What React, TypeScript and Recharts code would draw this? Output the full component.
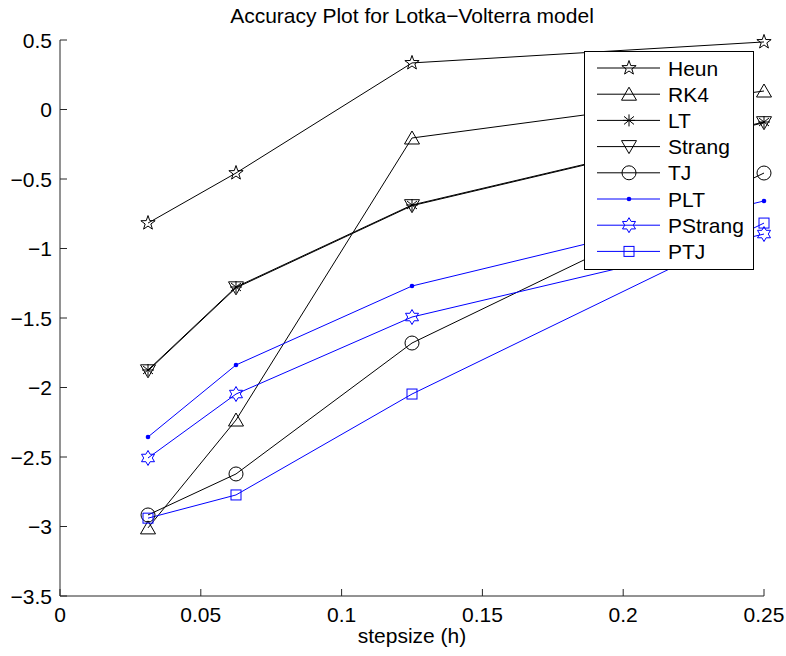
import { Legend, Line, LineChart, XAxis, YAxis } from "recharts";

const STEPS = [0.03125, 0.0625, 0.125, 0.25];

const HEUN = [-0.817, -0.457, 0.335, 0.486];
const RK4 = [-3.01, -2.234, -0.205, 0.133];
const LT = [-1.874, -1.277, -0.687, -0.09];
const STRANG = [-1.88, -1.283, -0.692, -0.095];
const TJ = [-2.917, -2.622, -1.68, -0.457];
const PLT = [-2.356, -1.838, -1.27, -0.658];
const PSTRANG = [-2.507, -2.047, -1.493, -0.896];
const PTJ = [-2.94, -2.773, -2.047, -0.817];

const X_TICKS = [0, 0.05, 0.1, 0.15, 0.2, 0.25];
const Y_TICKS = [-3.5, -3, -2.5, -2, -1.5, -1, -0.5, 0, 0.5];

const FONT = "'Liberation Sans', Arial, Helvetica, sans-serif";
const BLACK = "#000000";
const BLUE = "#0000ff";
const AXIS = "#262626";

type Shape = "pentagram" | "triUp" | "asterisk" | "triDown" | "circle" | "point" | "hexagram" | "square";

type Series = { key: string; name: string; values: number[]; color: string; shape: Shape };

const SERIES: Series[] = [
  { key: "heun", name: "Heun", values: HEUN, color: BLACK, shape: "pentagram" },
  { key: "rk4", name: "RK4", values: RK4, color: BLACK, shape: "triUp" },
  { key: "lt", name: "LT", values: LT, color: BLACK, shape: "asterisk" },
  { key: "strang", name: "Strang", values: STRANG, color: BLACK, shape: "triDown" },
  { key: "tj", name: "TJ", values: TJ, color: BLACK, shape: "circle" },
  { key: "plt", name: "PLT", values: PLT, color: BLUE, shape: "point" },
  { key: "pstrang", name: "PStrang", values: PSTRANG, color: BLUE, shape: "hexagram" },
  { key: "ptj", name: "PTJ", values: PTJ, color: BLUE, shape: "square" },
];

const data = STEPS.map((h, i) => {
  const row: Record<string, number> = { h };
  SERIES.forEach((s) => {
    row[s.key] = s.values[i];
  });
  return row;
});

function starPoints(cx: number, cy: number, n: number, outer: number, inner: number) {
  const pts: string[] = [];
  for (let i = 0; i < n * 2; i++) {
    const r = i % 2 === 0 ? outer : inner;
    const a = -Math.PI / 2 + (i * Math.PI) / n;
    pts.push(`${(cx + r * Math.cos(a)).toFixed(2)},${(cy + r * Math.sin(a)).toFixed(2)}`);
  }
  return pts.join(" ");
}

function Marker({ shape, color, cx, cy }: { shape: Shape; color: string; cx: number; cy: number }) {
  const common = { fill: "none", stroke: color, strokeWidth: 1 };
  switch (shape) {
    case "pentagram":
      return <polygon points={starPoints(cx, cy, 5, 7.5, 3)} {...common} />;
    case "hexagram":
      return <polygon points={starPoints(cx, cy, 6, 7.5, 4.3)} {...common} />;
    case "triUp":
      return <polygon points={`${cx},${cy - 7} ${cx + 7.5},${cy + 6} ${cx - 7.5},${cy + 6}`} {...common} />;
    case "triDown":
      return <polygon points={`${cx},${cy + 7} ${cx + 7.5},${cy - 6} ${cx - 7.5},${cy - 6}`} {...common} />;
    case "circle":
      return <circle cx={cx} cy={cy} r={7} {...common} />;
    case "square":
      return <rect x={cx - 5} y={cy - 5} width={10} height={10} {...common} />;
    case "point":
      return <circle cx={cx} cy={cy} r={2.3} fill={color} stroke="none" />;
    case "asterisk":
      return (
        <g stroke={color} strokeWidth={1}>
          <line x1={cx} y1={cy - 6} x2={cx} y2={cy + 6} />
          <line x1={cx - 5} y1={cy - 4} x2={cx + 5} y2={cy + 4} />
          <line x1={cx - 5} y1={cy + 4} x2={cx + 5} y2={cy - 4} />
          <line x1={cx - 6} y1={cy} x2={cx + 6} y2={cy} />
        </g>
      );
  }
  return null;
}

function makeDot(s: Series) {
  return (props: any) => (
    <g key={`${s.key}-${props.index}`}>
      <Marker shape={s.shape} color={s.color} cx={props.cx} cy={props.cy} />
    </g>
  );
}

function fmt(v: number) {
  return String(v).replace("-", "\u2212");
}

function XTick(props: any) {
  const { x, y, payload } = props;
  return (
    <g>
      <line x1={x} x2={x} y1={y} y2={y - 7} stroke={AXIS} />
      <text x={x} y={y + 26} textAnchor="middle" fontSize={21} fontFamily={FONT} fill="#000">
        {fmt(payload.value)}
      </text>
    </g>
  );
}

function YTick(props: any) {
  const { x, y, payload } = props;
  return (
    <g>
      <line x1={x} x2={x + 7} y1={y} y2={y} stroke={AXIS} />
      <text x={x - 8} y={y} dy="0.36em" textAnchor="end" fontSize={21} fontFamily={FONT} fill="#000">
        {fmt(payload.value)}
      </text>
    </g>
  );
}

function LegendBox() {
  return (
    <svg width={171} height={220} style={{ display: "block" }}>
      <rect x={0.5} y={0.5} width={169} height={218} fill="#fff" stroke="#000" />
      {SERIES.map((s, i) => {
        const cy = 17 + i * 26.2;
        return (
          <g key={s.key}>
            <line x1={13} x2={76} y1={cy} y2={cy} stroke={s.color} />
            <Marker shape={s.shape} color={s.color} cx={45} cy={cy} />
            <text x={84} y={cy} dy="0.36em" fontSize={21} fontFamily={FONT} fill="#000">
              {s.name}
            </text>
          </g>
        );
      })}
    </svg>
  );
}

export default function App() {
  return (
    <div style={{ position: "absolute", left: 0, top: 0, width: 786, height: 656, background: "#fff" }}>
      <div
        style={{
          position: "absolute",
          left: 60,
          width: 704,
          top: 4,
          textAlign: "center",
          fontFamily: FONT,
          fontSize: 21,
          color: "#000",
        }}
      >
        Accuracy Plot for Lotka{"\u2212"}Volterra model
      </div>
      <LineChart width={786} height={656} data={data} margin={{ top: 40, right: 22, bottom: 0, left: 0 }}>
        <XAxis
          dataKey="h"
          type="number"
          domain={[0, 0.25]}
          ticks={X_TICKS}
          height={60}
          stroke={AXIS}
          tickLine={false}
          tickSize={0}
          tickMargin={0}
          tick={<XTick />}
          interval={0}
          label={{ value: "stepsize (h)", position: "insideBottom", offset: 13, fontSize: 21, fontFamily: FONT, fill: "#000" }}
        />
        <YAxis
          type="number"
          domain={[-3.5, 0.5]}
          ticks={Y_TICKS}
          width={60}
          stroke={AXIS}
          tickLine={false}
          tickSize={0}
          tickMargin={0}
          tick={<YTick />}
          interval={0}
        />
        {SERIES.map((s) => (
          <Line
            key={s.key}
            dataKey={s.key}
            name={s.name}
            stroke={s.color}
            strokeWidth={1}
            type="linear"
            dot={makeDot(s)}
            activeDot={false}
            isAnimationActive={false}
          />
        ))}
        <Legend
          layout="vertical"
          align="center"
          verticalAlign="middle"
          content={<LegendBox />}
          wrapperStyle={{ left: 584, top: 51, width: 171, height: 220 }}
        />
      </LineChart>
    </div>
  );
}
